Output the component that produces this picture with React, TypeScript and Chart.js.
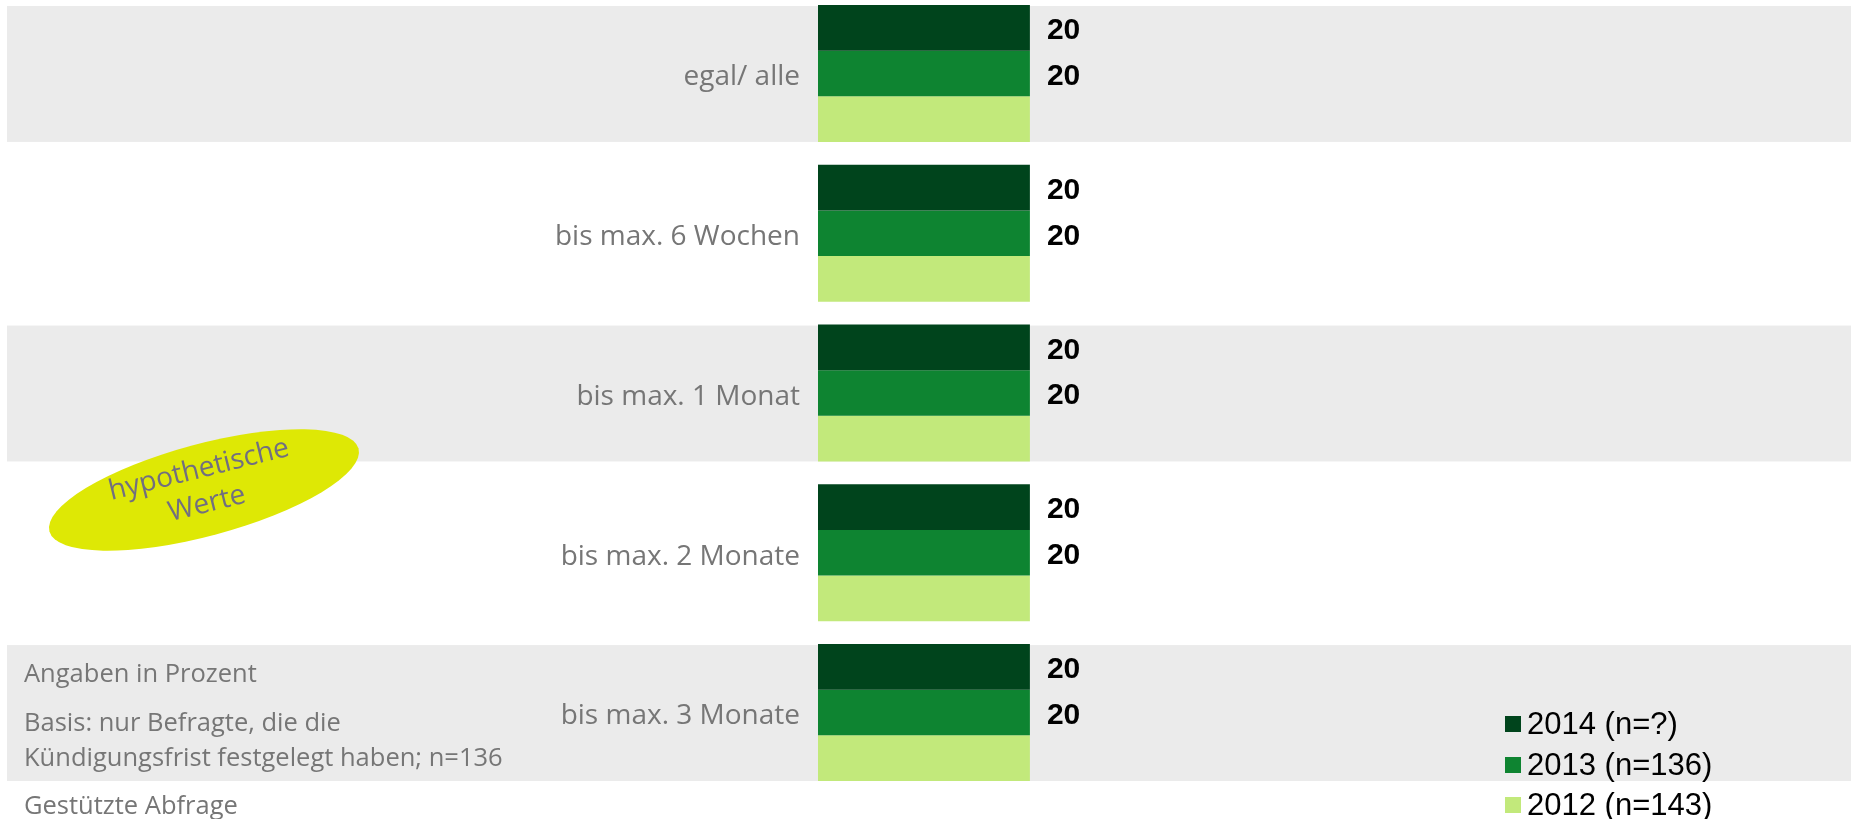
import React, { useEffect, useRef } from "react";
import { Chart, registerables } from "chart.js";

Chart.register(...registerables);

// ---------- data ----------
const categories = [
  "egal/ alle",
  "bis max. 6 Wochen",
  "bis max. 1 Monat",
  "bis max. 2 Monate",
  "bis max. 3 Monate",
];
const values2014 = [20, 20, 20, 20, 20];
const values2013 = [20, 20, 20, 20, 20];
const values2012 = [20, 20, 20, 20, 20];
const seriesLabels = ["2014 (n=?)", "2013 (n=136)", "2012 (n=143)"];
const seriesColors = ["#00441C", "#0E8431", "#C2E97B"];
const seriesShowValue = [true, true, false];
const footnotes = [
  "Angaben in Prozent",
  "Basis: nur Befragte, die die",
  "Kündigungsfrist festgelegt haben; n=136",
  "Gestützte Abfrage",
];
const badgeLines = ["hypothetische", "Werte"];
const X_MAX = 97.5;

// ---------- layout ----------
const W = 1851;
const OFF = 50; // canvas shifted up by this many px
const H = 819 + 100;
const LABEL_FONT = "'Open Sans', sans-serif";
const GRAY = "#767676";
const BAND = "#EBEBEB";

export default function App() {
  const ref = useRef<HTMLCanvasElement | null>(null);

  useEffect(() => {
    const canvas = ref.current;
    if (!canvas) return;

    const bandsPlugin = {
      id: "bands",
      beforeDraw(chart: any) {
        const ctx = chart.ctx;
        const meta0 = chart.getDatasetMeta(0);
        const metaL = chart.getDatasetMeta(chart.data.datasets.length - 1);
        ctx.save();
        ctx.fillStyle = BAND;
        for (let i = 0; i < categories.length; i += 2) {
          const b0: any = meta0.data[i];
          const bL: any = metaL.data[i];
          if (!b0 || !bL) continue;
          const top = b0.y - b0.height / 2 + 1;
          const bottom = bL.y + bL.height / 2;
          ctx.fillRect(7, top, W - 7, bottom - top);
        }
        ctx.restore();
      },
    };

    const overlayPlugin = {
      id: "overlay",
      afterDatasetsDraw(chart: any) {
        const ctx = chart.ctx;
        ctx.save();
        // value labels
        ctx.fillStyle = "#000";
        ctx.font = "bold 30px 'Liberation Sans', Arial, sans-serif";
        ctx.textAlign = "left";
        ctx.textBaseline = "middle";
        chart.data.datasets.forEach((ds: any, di: number) => {
          if (!seriesShowValue[di]) return;
          const meta = chart.getDatasetMeta(di);
          meta.data.forEach((bar: any, i: number) => {
            ctx.fillText(String(ds.data[i]), bar.x + 17, bar.y + 3);
          });
        });

        // footnotes
        ctx.fillStyle = GRAY;
        ctx.font = `25.5px ${LABEL_FONT}`;
        const fy = [675, 724, 759, 807];
        footnotes.forEach((t, i) => ctx.fillText(t, 24, fy[i] + OFF));

        // legend
        const ly = [724, 765, 805];
        chart.data.datasets.forEach((ds: any, di: number) => {
          const y = ly[di] + OFF;
          ctx.fillStyle = ds.backgroundColor;
          ctx.fillRect(1505, y - 8, 16, 16);
          ctx.fillStyle = "#000";
          ctx.font = "31px 'Liberation Sans', Arial, sans-serif";
          ctx.fillText(ds.label, 1527, y + 1);
        });

        // badge
        ctx.save();
        ctx.translate(204, 490 + OFF);
        ctx.rotate((-15 * Math.PI) / 180);
        ctx.beginPath();
        ctx.ellipse(0, 0, 160, 46, 0, 0, Math.PI * 2);
        ctx.fillStyle = "#DEE805";
        ctx.fill();
        ctx.restore();

        ctx.fillStyle = "#716F80";
        ctx.font = `28px ${LABEL_FONT}`;
        ctx.textAlign = "center";
        const bx = [199, 207];
        const by = [470, 504];
        badgeLines.forEach((t, i) => {
          ctx.save();
          ctx.translate(bx[i], by[i] + OFF);
          ctx.rotate((-14 * Math.PI) / 180);
          ctx.fillText(t, 0, 0);
          ctx.restore();
        });
        ctx.restore();
      },
    };

    const chart = new Chart(canvas, {
      type: "bar",
      data: {
        labels: categories,
        datasets: [
          { label: seriesLabels[0], data: values2014, backgroundColor: seriesColors[0] },
          { label: seriesLabels[1], data: values2013, backgroundColor: seriesColors[1] },
          { label: seriesLabels[2], data: values2012, backgroundColor: seriesColors[2] },
        ],
      },
      options: {
        indexAxis: "y",
        responsive: false,
        animation: false,
        devicePixelRatio: 1,
        layout: { padding: { top: OFF - 6.4, bottom: H - (OFF + 792.4), left: 0, right: 0 } },
        datasets: { bar: { categoryPercentage: 0.857, barPercentage: 1, borderWidth: 0 } },
        plugins: { legend: { display: false }, tooltip: { enabled: false } },
        scales: {
          x: { display: false, min: 0, max: X_MAX },
          y: {
            afterFit: (scale: any) => {
              scale.width = 818;
            },
            grid: { display: false, drawTicks: false, tickLength: 0 },
            border: { display: false },
            ticks: {
              autoSkip: false,
              color: GRAY,
              font: { family: LABEL_FONT, size: 28 },
              padding: 18,
              labelOffset: 4,
            },
          },
        },
      },
      plugins: [bandsPlugin, overlayPlugin],
    } as any);

    return () => chart.destroy();
  }, []);

  return (
    <div style={{ position: "fixed", left: 0, top: -OFF, width: W, height: H, background: "#fff" }}>
      <canvas ref={ref} width={W} height={H} style={{ display: "block", width: W, height: H }} />
    </div>
  );
}
